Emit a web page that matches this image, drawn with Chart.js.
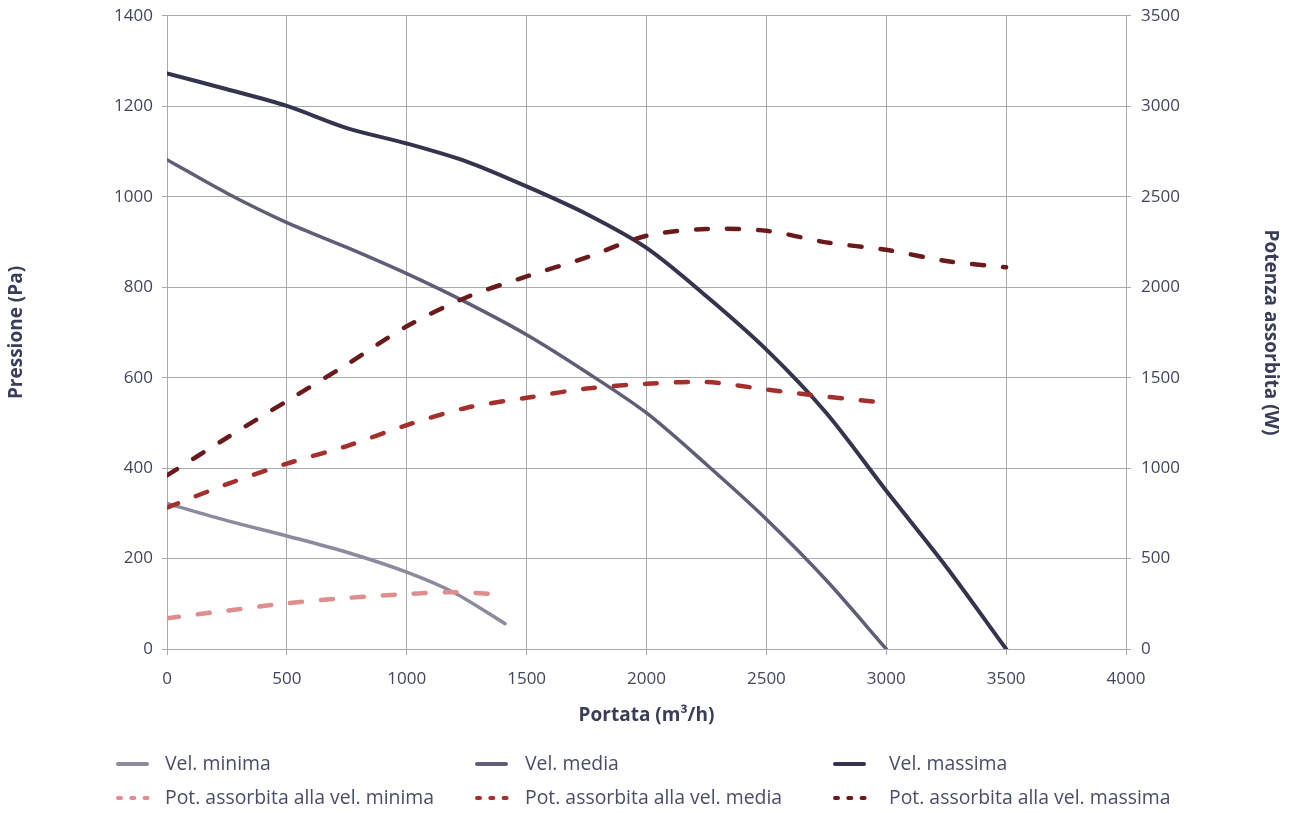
<!DOCTYPE html>
<html>
<head>
<meta charset="utf-8">
<script src="https://cdn.jsdelivr.net/npm/chart.js@4/dist/chart.umd.min.js"></script>
<style>
  html, body { margin: 0; padding: 0; background: #ffffff; }
  #wrap { position: relative; width: 1296px; height: 813px; overflow: hidden; }
  #chart { position: absolute; left: 0; top: 0; }
  .leg { position: absolute; font-family: "Open Sans", Lato, sans-serif; font-size: 19.4px; color: #4a4d68; white-space: nowrap; line-height: 22px; }
</style>
</head>
<body>
<div id="wrap">
  <canvas id="chart" width="1296" height="813"></canvas>
</div>
<script>
// ---- data ----
const flowMin = [0, 250, 500, 750, 1000, 1200, 1410];
const presMin = [322, 284, 250, 214, 170, 124, 56];
const powMin  = [170, 212, 253, 282, 304, 314, 300];

const flowMed = [0, 250, 500, 750, 1000, 1250, 1500, 1750, 2000, 2250, 2500, 2750, 3000];
const presMed = [1082, 1008, 943, 888, 830, 766, 695, 612, 522, 408, 287, 152, 0];
const powMed  = [782, 911, 1025, 1122, 1238, 1334, 1389, 1440, 1466, 1476, 1435, 1395, 1361];

const flowMax = [0, 250, 500, 750, 1000, 1250, 1500, 1750, 2000, 2250, 2500, 2750, 3000, 3250, 3500];
const presMax = [1273, 1238, 1201, 1152, 1118, 1078, 1023, 962, 887, 780, 662, 522, 350, 182, 0];
const powMax  = [960, 1168, 1371, 1573, 1784, 1945, 2060, 2165, 2285, 2322, 2312, 2248, 2207, 2145, 2110];

const xTicks = [0, 500, 1000, 1500, 2000, 2500, 3000, 3500, 4000];
const yTicks = [0, 200, 400, 600, 800, 1000, 1200, 1400];
const y1Ticks = [0, 500, 1000, 1500, 2000, 2500, 3000, 3500];

const seriesLabels = ['Vel. minima', 'Vel. media', 'Vel. massima',
  'Pot. assorbita alla vel. minima', 'Pot. assorbita alla vel. media', 'Pot. assorbita alla vel. massima'];
const seriesColors = ['#8b8a9f', '#5f5e77', '#35344f', '#e08d8d', '#a52f2c', '#6b1a1c'];

const xTitle = 'Portata (m³/h)';
const yTitle = 'Pressione (Pa)';
const y1Title = 'Potenza assorbita (W)';

function pts(xs, ys) { return xs.map((x, i) => ({ x: x, y: ys[i] })); }

const textColor = '#42455f';
const gridColor = '#aaaaaa';
const xTickFont = { family: '"Open Sans", Lato, sans-serif', size: 17, lineHeight: 1.0 };
const yTickFont = { family: '"Open Sans", Lato, sans-serif', size: 17, lineHeight: 0.7 };
const titleFont = { family: '"Open Sans", Lato, sans-serif', size: 19, weight: 'bold' };
const plain = v => String(v);

function solid(i, data, w) {
  return { label: seriesLabels[i], data: data, yAxisID: 'y', borderColor: seriesColors[i],
    backgroundColor: seriesColors[i], borderWidth: w, pointRadius: 0, fill: false,
    tension: 0.3, borderCapStyle: 'round', borderJoinStyle: 'round' };
}
function dashed(i, data) {
  return { label: seriesLabels[i], data: data, yAxisID: 'y1', borderColor: seriesColors[i],
    backgroundColor: seriesColors[i], borderWidth: 4.5, pointRadius: 0, fill: false,
    borderDash: [12, 19], tension: 0.3, borderCapStyle: 'round' };
}

new Chart(document.getElementById('chart'), {
  type: 'line',
  data: {
    datasets: [
      dashed(3, pts(flowMin, powMin)),
      dashed(4, pts(flowMed, powMed)),
      dashed(5, pts(flowMax, powMax)),
      solid(0, pts(flowMin, presMin), 3.5),
      solid(1, pts(flowMed, presMed), 3.5),
      solid(2, pts(flowMax, presMax), 4)
    ]
  },
  options: {
    responsive: false,
    animation: false,
    events: [],
    layout: { padding: { top: 12, left: 0, right: 0, bottom: 72 } },
    plugins: { legend: { display: false }, tooltip: { enabled: false }, title: { display: false } },
    scales: {
      x: {
        type: 'linear', min: 0, max: 4000,
        afterFit: s => { s.height = 92; },
        afterBuildTicks: s => { s.ticks = xTicks.map(v => ({ value: v })); },
        ticks: { color: textColor, font: xTickFont, padding: 16, maxRotation: 0, autoSkip: false, callback: plain },
        grid: { color: gridColor, lineWidth: 1, tickLength: 6, drawTicks: true },
        border: { color: gridColor, width: 1 },
        title: { display: true, text: xTitle, color: '#3a3d5a', font: titleFont, padding: { top: 0, bottom: 14 } }
      },
      y: {
        type: 'linear', position: 'left', min: 0, max: 1400,
        afterFit: s => { s.width = 167; },
        afterBuildTicks: s => { s.ticks = yTicks.map(v => ({ value: v })); },
        ticks: { color: textColor, font: yTickFont, padding: 9, callback: plain },
        grid: { color: gridColor, lineWidth: 1, tickLength: 5 },
        border: { color: gridColor, width: 1 },
        title: { display: true, text: yTitle, color: '#3a3d5a', font: titleFont, padding: { top: 5, bottom: 0 } }
      },
      y1: {
        type: 'linear', position: 'right', min: 0, max: 3500,
        afterFit: s => { s.width = 170; },
        afterBuildTicks: s => { s.ticks = y1Ticks.map(v => ({ value: v })); },
        ticks: { color: textColor, font: yTickFont, padding: 10, callback: plain },
        grid: { color: gridColor, lineWidth: 1, tickLength: 5, drawOnChartArea: false },
        border: { color: gridColor, width: 1 },
        title: { display: true, text: y1Title, color: '#3a3d5a', font: titleFont, padding: { top: 14, bottom: 0 } }
      }
    }
  }
});

// ---- HTML legend (3 columns x 2 rows) ----
const legLineX = [116, 475, 833];
const legTextX = [165, 525, 889];
const legRowY = [764, 798];
const wrap = document.getElementById('wrap');
seriesLabels.forEach((lab, i) => {
  const col = i % 3, row = Math.floor(i / 3);
  const isDash = row === 1;
  const svgNS = 'http://www.w3.org/2000/svg';
  const svg = document.createElementNS(svgNS, 'svg');
  svg.setAttribute('width', '40'); svg.setAttribute('height', '10');
  svg.style.position = 'absolute';
  svg.style.overflow = 'visible';
  svg.style.left = legLineX[col] + 'px';
  svg.style.top = (legRowY[row] - 5) + 'px';
  const ln = document.createElementNS(svgNS, 'line');
  ln.setAttribute('x1', '2'); ln.setAttribute('x2', isDash ? '31.6' : '31');
  ln.setAttribute('y1', '5'); ln.setAttribute('y2', '5');
  ln.setAttribute('stroke', seriesColors[i]);
  ln.setAttribute('stroke-width', '4');
  ln.setAttribute('stroke-linecap', 'round');
  if (isDash) ln.setAttribute('stroke-dasharray', '3 10.3');
  svg.appendChild(ln);
  wrap.appendChild(svg);
  const d = document.createElement('div');
  d.className = 'leg';
  d.textContent = lab;
  d.style.left = legTextX[col] + 'px';
  d.style.top = (legRowY[row] - 12) + 'px';
  wrap.appendChild(d);
});
</script>
</body>
</html>
